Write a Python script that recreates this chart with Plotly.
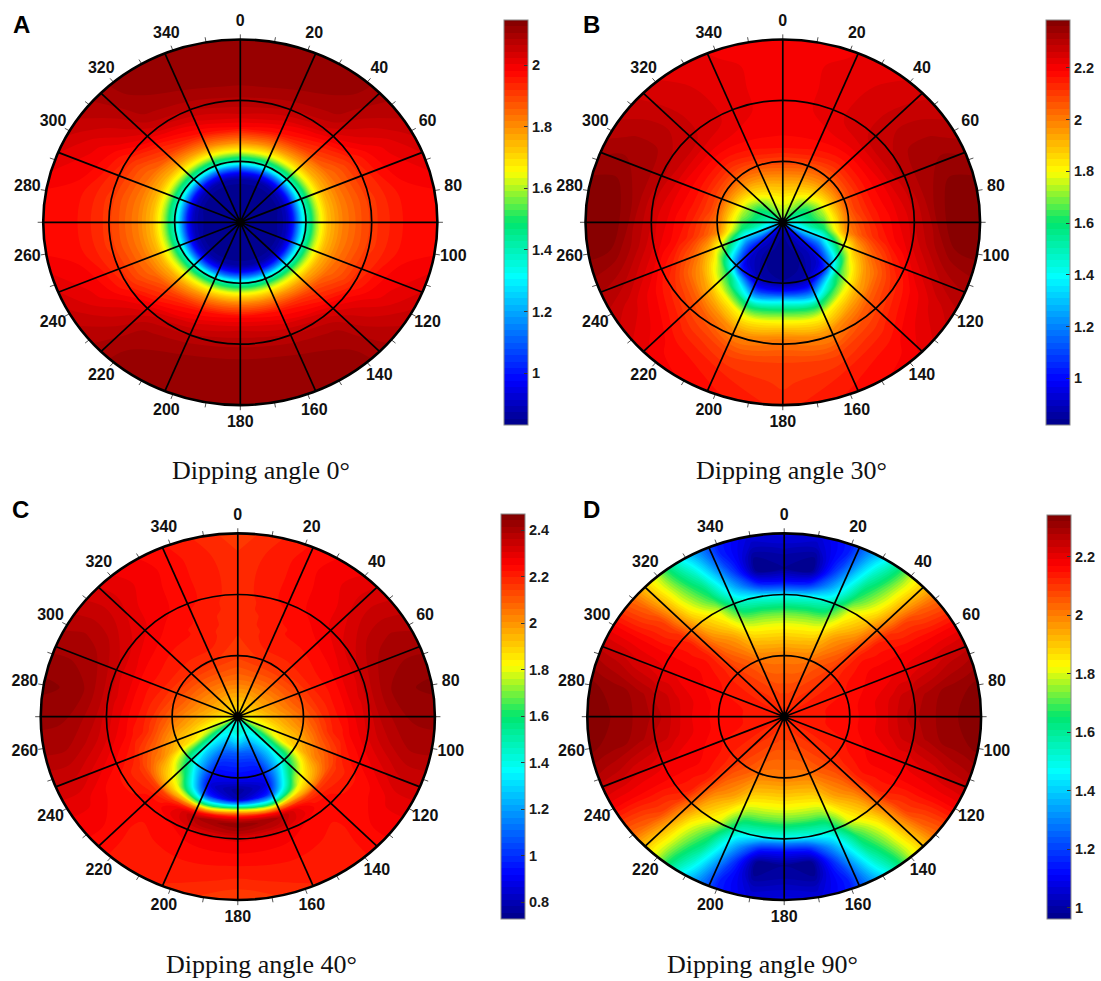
import numpy as np
import plotly.graph_objects as go

W, H = 1101, 981
THETA_20 = [0, 20, 40, 60, 80, 100, 120, 140, 160, 180]
THETA_10 = [0, 10, 20, 30, 40, 50, 60, 70, 80, 90]

R_A = [0, .1, .2, .24, .27, .3, .33, .355, .39, .446, .52, .6, .67, .75, .85, 1]
Z_A = [
    [.832, .832, .832, .832, .832, .832, .832, .832, .832, .832],
    [.835, .835, .835, .835, .835, .835, .835, .835, .835, .835],
    [.845, .845, .845, .85, .855, .855, .85, .845, .845, .845],
    [.875, .875, .88, .89, .90, .90, .89, .88, .875, .875],
    [.97, .97, .98, .99, 1.01, 1.01, .99, .98, .97, .97],
    [1.15, 1.15, 1.16, 1.18, 1.2, 1.2, 1.18, 1.16, 1.15, 1.15],
    [1.38, 1.38, 1.38, 1.38, 1.38, 1.38, 1.38, 1.38, 1.38, 1.38],
    [1.49, 1.49, 1.48, 1.47, 1.46, 1.46, 1.47, 1.48, 1.49, 1.49],
    [1.65, 1.64, 1.63, 1.61, 1.60, 1.60, 1.61, 1.63, 1.64, 1.65],
    [1.82, 1.81, 1.78, 1.75, 1.74, 1.74, 1.75, 1.78, 1.81, 1.82],
    [1.98, 1.96, 1.91, 1.84, 1.82, 1.82, 1.84, 1.91, 1.96, 1.98],
    [2.05, 2.03, 1.98, 1.89, 1.87, 1.87, 1.89, 1.98, 2.03, 2.05],
    [2.08, 2.07, 2.04, 1.94, 1.91, 1.91, 1.94, 2.04, 2.07, 2.08],
    [2.105, 2.10, 2.08, 1.98, 1.94, 1.94, 1.98, 2.08, 2.10, 2.105],
    [2.12, 2.12, 2.10, 2.01, 1.97, 1.97, 2.01, 2.10, 2.12, 2.12],
    [2.125, 2.125, 2.11, 2.05, 1.98, 1.98, 2.05, 2.11, 2.125, 2.125],
]

R_B = [0, .07, .14, .21, .28, .33, .37, .4, .434, .48, .544, .635, .76, .88, 1]
Z_B = [
    [1.70, 1.68, 1.60, 1.52, 1.45, 1.32, 1.22, 1.0, .88, .85],
    [1.75, 1.72, 1.65, 1.55, 1.5, 1.38, 1.28, .98, .87, .84],
    [1.83, 1.80, 1.72, 1.62, 1.6, 1.52, 1.25, .92, .85, .83],
    [1.92, 1.90, 1.85, 1.78, 1.72, 1.6, 1.22, .90, .84, .83],
    [2.02, 2.0, 1.97, 1.94, 1.9, 1.82, 1.42, .93, .85, .83],
    [2.09, 2.07, 2.04, 2.04, 2.03, 1.97, 1.6, 1.05, .88, .85],
    [2.13, 2.12, 2.09, 2.09, 2.09, 2.02, 1.72, 1.35, .98, .98],
    [2.16, 2.15, 2.12, 2.12, 2.11, 2.06, 1.82, 1.55, 1.1, 1.14],
    [2.18, 2.17, 2.15, 2.15, 2.14, 2.09, 1.88, 1.65, 1.28, 1.38],
    [2.19, 2.19, 2.18, 2.18, 2.17, 2.13, 1.96, 1.78, 1.55, 1.6],
    [2.20, 2.21, 2.22, 2.22, 2.20, 2.17, 2.03, 1.92, 1.78, 1.8],
    [2.20, 2.22, 2.26, 2.28, 2.25, 2.22, 2.12, 2.05, 1.95, 1.99],
    [2.20, 2.22, 2.26, 2.32, 2.33, 2.3, 2.2, 2.13, 2.08, 2.09],
    [2.20, 2.22, 2.25, 2.32, 2.38, 2.36, 2.25, 2.18, 2.14, 2.11],
    [2.20, 2.21, 2.24, 2.30, 2.38, 2.37, 2.28, 2.2, 2.17, 2.13],
]

R_C = [0, .08, .14, .2, .25, .33, .4, .45, .48, .51, .536, .56, .59, .63, .68, .8, .9, 1]
Z_C = [
    [1.85, 1.85, 1.85, 1.85, 1.82, 1.78, 1.68, 1.45, 1.35, 1.35],
    [1.92, 1.92, 1.92, 1.92, 1.88, 1.83, 1.72, 1.42, 1.42, 1.45],
    [1.99, 1.99, 1.99, 1.98, 1.95, 1.87, 1.72, 1.37, 1.25, 1.3],
    [2.06, 2.06, 2.05, 2.03, 2.0, 1.92, 1.78, 1.33, 1.1, 1.08],
    [2.10, 2.11, 2.10, 2.08, 2.04, 1.96, 1.84, 1.3, 1.02, 1.0],
    [2.15, 2.17, 2.17, 2.15, 2.11, 2.02, 1.89, 1.35, .92, .92],
    [2.16, 2.2, 2.2, 2.2, 2.17, 2.1, 1.97, 1.55, .85, .76],
    [2.17, 2.21, 2.22, 2.22, 2.2, 2.16, 2.03, 1.72, .98, .80],
    [2.17, 2.21, 2.22, 2.23, 2.22, 2.19, 2.05, 1.8, 1.25, 1.25],
    [2.17, 2.22, 2.23, 2.24, 2.24, 2.21, 2.09, 1.89, 1.65, 1.82],
    [2.17, 2.22, 2.23, 2.25, 2.25, 2.22, 2.12, 2.0, 2.0, 2.14],
    [2.17, 2.22, 2.24, 2.27, 2.27, 2.24, 2.16, 2.14, 2.25, 2.33],
    [2.18, 2.22, 2.25, 2.28, 2.29, 2.26, 2.18, 2.2, 2.39, 2.44],
    [2.18, 2.22, 2.26, 2.3, 2.31, 2.28, 2.2, 2.24, 2.35, 2.38],
    [2.18, 2.23, 2.27, 2.33, 2.35, 2.31, 2.22, 2.23, 2.27, 2.28],
    [2.18, 2.23, 2.28, 2.38, 2.42, 2.37, 2.26, 2.22, 2.23, 2.23],
    [2.17, 2.23, 2.29, 2.39, 2.44, 2.4, 2.29, 2.22, 2.21, 2.19],
    [2.15, 2.22, 2.28, 2.38, 2.45, 2.4, 2.29, 2.22, 2.19, 2.14],
]

R_D = [0, .14, .33, .43, .5, .565, .61, .66, .69, .74, .81, .88, .95, 1]
Z_D = [
    [2.12, 2.12, 2.12, 2.12, 2.13, 2.13, 2.13, 2.13, 2.13, 2.13],
    [2.08, 2.08, 2.09, 2.10, 2.11, 2.12, 2.13, 2.14, 2.14, 2.14],
    [2.00, 2.00, 2.01, 2.05, 2.08, 2.12, 2.14, 2.15, 2.16, 2.16],
    [1.90, 1.90, 1.92, 1.99, 2.05, 2.13, 2.16, 2.17, 2.18, 2.18],
    [1.82, 1.82, 1.84, 1.95, 2.02, 2.14, 2.17, 2.18, 2.20, 2.20],
    [1.72, 1.72, 1.74, 1.88, 1.98, 2.13, 2.17, 2.19, 2.22, 2.23],
    [1.62, 1.62, 1.65, 1.84, 1.95, 2.13, 2.17, 2.2, 2.24, 2.25],
    [1.48, 1.50, 1.55, 1.80, 1.92, 2.12, 2.17, 2.2, 2.25, 2.27],
    [1.30, 1.34, 1.48, 1.75, 1.90, 2.11, 2.17, 2.21, 2.27, 2.28],
    [1.11, 1.14, 1.38, 1.68, 1.86, 2.09, 2.17, 2.22, 2.28, 2.29],
    [.98, .97, 1.28, 1.62, 1.82, 2.08, 2.17, 2.23, 2.30, 2.31],
    [1.0, .98, 1.2, 1.55, 1.80, 2.05, 2.17, 2.25, 2.31, 2.32],
    [1.05, 1.04, 1.15, 1.48, 1.78, 2.03, 2.17, 2.26, 2.32, 2.33],
    [1.08, 1.06, 1.15, 1.42, 1.78, 2.02, 2.17, 2.27, 2.33, 2.34],
]

PANELS = [
    dict(letter="A", caption="Dipping angle 0°", r=R_A, z=Z_A, theta=THETA_20, quarter=False,
         cx=240.3, cy=222.3, rx=197.1, ry=182.8,
         zmin=.832, zmax=2.146, ticks=[1, 1.2, 1.4, 1.6, 1.8, 2], cb=(504, 527.5, 20, 425),
         lx=21.7, ly=25, capx=261, capy=471),
    dict(letter="B", caption="Dipping angle 30°", r=R_B, z=Z_B, theta=THETA_20, quarter=False,
         cx=782.8, cy=222.3, rx=197.3, ry=182.8,
         zmin=.82, zmax=2.385, ticks=[1, 1.2, 1.4, 1.6, 1.8, 2, 2.2], cb=(1046, 1070, 20, 425),
         lx=591.5, ly=25, capx=791, capy=471),
    dict(letter="C", caption="Dipping angle 40°", r=R_C, z=Z_C, theta=THETA_20, quarter=False,
         cx=237.8, cy=716.7, rx=197.1, ry=183.3,
         zmin=.727, zmax=2.469, ticks=[.8, 1, 1.2, 1.4, 1.6, 1.8, 2, 2.2, 2.4], cb=(501, 525, 514, 919.3),
         lx=20.3, ly=509, capx=261, capy=964),
    dict(letter="D", caption="Dipping angle 90°", r=R_D, z=Z_D, theta=THETA_10, quarter=True,
         cx=784.2, cy=716.7, rx=196.9, ry=183.3,
         zmin=.96, zmax=2.342, ticks=[1, 1.2, 1.4, 1.6, 1.8, 2, 2.2], cb=(1046.5, 1070.7, 515, 919.3),
         lx=591.5, ly=509, capx=762, capy=964),
]

JET = [[0, "rgb(0,0,135)"], [.11, "rgb(0,0,255)"], [.24, "rgb(0,128,255)"], [.365, "rgb(0,255,255)"],
       [.5, "rgb(0,230,110)"], [.625, "rgb(255,255,0)"], [.75, "rgb(255,128,0)"], [.875, "rgb(255,0,0)"],
       [1, "rgb(128,0,0)"]]
SANS = "Liberation Sans, Arial, sans-serif"
SERIF = "Liberation Serif, Times New Roman, serif"
SPAN = 1.18
SPOKES = [22.5 * i for i in range(16)]
TICK_ANGLES = list(range(0, 360, 10))
LABEL_ANGLES = list(range(0, 360, 20))

fig = go.Figure()
shapes, annotations = [], []
layout_axes = {}

for i, p in enumerate(PANELS):
    sfx = "" if i == 0 else str(i + 1)
    xa, ya = f"x{sfx}", f"y{sfx}"
    layout_axes[f"xaxis{sfx}"] = dict(domain=[(p["cx"] - SPAN * p["rx"]) / W, (p["cx"] + SPAN * p["rx"]) / W],
                                      range=[-SPAN, SPAN], visible=False, anchor=ya, fixedrange=True)
    layout_axes[f"yaxis{sfx}"] = dict(domain=[1 - (p["cy"] + SPAN * p["ry"]) / H, 1 - (p["cy"] - SPAN * p["ry"]) / H],
                                      range=[-SPAN, SPAN], visible=False, anchor=xa, fixedrange=True)
    r = np.array(p["r"], float)
    half = list(p["theta"])
    rows = [list(row) for row in p["z"]]
    if p["quarter"]:
        half = half + [180 - a for a in half[-2::-1]]
        rows = [row + row[-2::-1] for row in rows]
    t = np.array(half + [360 - a for a in half[-2::-1]], float)
    z = np.array([row + row[-2::-1] for row in rows], float)
    T, Rr = np.meshgrid(np.radians(t), r)
    cid = f"c{i}"
    hidden = dict(showgrid=False, showticklabels="none", startline=False, endline=False, smoothing=1, minorgridcount=0)
    fig.add_trace(go.Carpet(a=t, b=r, x=Rr * np.sin(T), y=Rr * np.cos(T), carpet=cid, xaxis=xa, yaxis=ya,
                            aaxis=hidden, baxis=hidden))
    x0, x1, y0, y1 = p["cb"]
    fig.add_trace(go.Contourcarpet(
        a=t, b=r, z=z, carpet=cid, xaxis=xa, yaxis=ya, colorscale=JET, zauto=False,
        zmin=p["zmin"], zmax=p["zmax"], autocontour=False,
        contours=dict(start=p["zmin"], end=p["zmax"], size=(p["zmax"] - p["zmin"]) / 64, coloring="fill", showlines=False),
        line=dict(width=0),
        colorbar=dict(x=x0 / W, xanchor="left", xref="paper", y=1 - y1 / H, yanchor="bottom", yref="paper",
                      len=y1 - y0, lenmode="pixels", thickness=x1 - x0, thicknessmode="pixels", xpad=0, ypad=0,
                      tickmode="array", tickvals=p["ticks"], ticktext=[f"{v:g}" for v in p["ticks"]],
                      ticks="inside", ticklen=4, tickcolor="#333", tickwidth=1,
                      outlinecolor="#888", outlinewidth=1, borderwidth=0,
                      tickfont=dict(family=SANS, size=14.5, color="#1a1a1a", weight="bold")),
    ))
    sx, sy = [], []
    for a in SPOKES:
        sx += [0, np.sin(np.radians(a)), None]
        sy += [0, np.cos(np.radians(a)), None]
    fig.add_trace(go.Scatter(x=sx, y=sy, mode="lines", xaxis=xa, yaxis=ya, line=dict(color="black", width=1.7),
                             hoverinfo="skip", showlegend=False))
    tx, ty = [], []
    for a in TICK_ANGLES:
        s, c = np.sin(np.radians(a)), np.cos(np.radians(a))
        tx += [s, 1.028 * s, None]
        ty += [c, 1.028 * c, None]
    fig.add_trace(go.Scatter(x=tx, y=ty, mode="lines", xaxis=xa, yaxis=ya, line=dict(color="#555", width=1),
                             hoverinfo="skip", showlegend=False))
    fig.add_trace(go.Scatter(
        x=[1.097 * np.sin(np.radians(a)) for a in LABEL_ANGLES],
        y=[1.097 * np.cos(np.radians(a)) for a in LABEL_ANGLES],
        text=[str(a) for a in LABEL_ANGLES], mode="text", textposition="middle center", xaxis=xa, yaxis=ya,
        textfont=dict(family=SANS, size=16, color="#111", weight="bold"), hoverinfo="skip", showlegend=False))
    fig.add_trace(go.Scatter(x=[0], y=[0], mode="markers", xaxis=xa, yaxis=ya,
                             marker=dict(color="black", size=9), hoverinfo="skip", showlegend=False))
    for rr, wd in [(1 / 3, 1.7), (2 / 3, 1.7), (1, 2.6)]:
        shapes.append(dict(type="circle", xref=xa, yref=ya, x0=-rr, x1=rr, y0=-rr, y1=rr, layer="above",
                           line=dict(color="black", width=wd)))
    annotations.append(dict(text=p["letter"], x=p["lx"] / W, y=1 - p["ly"] / H, xref="paper", yref="paper",
                            showarrow=False, xanchor="center", yanchor="middle",
                            font=dict(family=SANS, size=24, color="black", weight="bold")))
    annotations.append(dict(text=p["caption"], x=p["capx"] / W, y=1 - p["capy"] / H, xref="paper", yref="paper",
                            showarrow=False, xanchor="center", yanchor="middle",
                            font=dict(family=SERIF, size=26, color="#111")))

fig.update_layout(width=W, height=H, autosize=False, margin=dict(l=0, r=0, t=0, b=0), paper_bgcolor="white",
                  plot_bgcolor="white", showlegend=False, shapes=shapes, annotations=annotations, **layout_axes)
fig.write_html("out.html", config=dict(displayModeBar=False), post_script="document.body.style.margin='0';")
